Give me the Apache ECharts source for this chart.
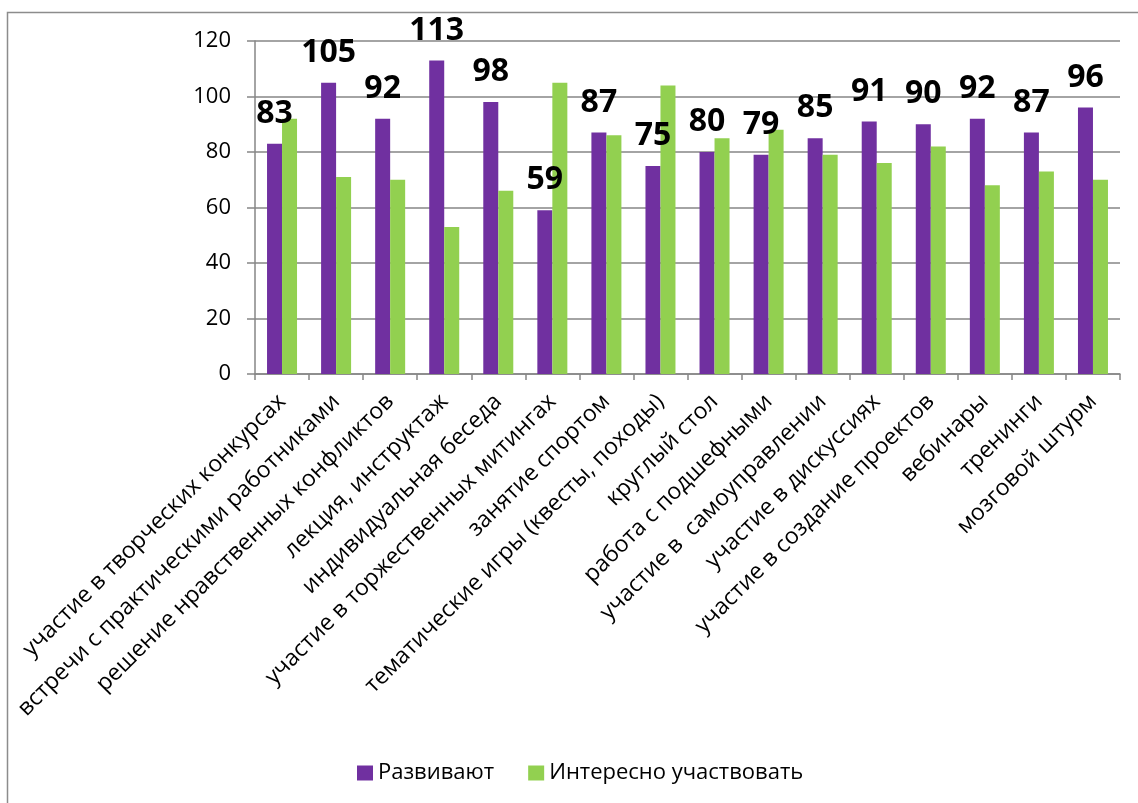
<!DOCTYPE html>
<html>
<head>
<meta charset="utf-8">
<script src="https://cdn.jsdelivr.net/npm/echarts@6/dist/echarts.min.js"></script>
<style>
  html, body { margin: 0; padding: 0; background: #fff; }
  #chart { width: 1138px; height: 803px; }
</style>
</head>
<body>
<div id="chart"></div>
<script>
var categories = [
    'участие в творческих конкурсах',
    'встречи с практическими работниками',
    'решение нравственных конфликтов',
    'лекция, инструктаж',
    'индивидуальная беседа',
    'участие в торжественных митингах',
    'занятие спортом',
    'тематические игры (квесты, походы)',
    'круглый стол',
    'работа с подшефными',
    'участие в  самоуправлении',
    'участие в дискуссиях',
    'участие в создание проектов',
    'вебинары',
    'тренинги',
    'мозговой штурм'
];
var razvivayut = [83, 105, 92, 113, 98, 59, 87, 75, 80, 79, 85, 91, 90, 92, 87, 96];
var interesno = [92, 71, 70, 53, 66, 105, 86, 104, 85, 88, 79, 76, 82, 68, 73, 70];
var yTicks = { min: 0, max: 120, interval: 20 };

var font = '"Open Sans", "Noto Sans", sans-serif';
var chart = echarts.init(document.getElementById('chart'));

var option = {
    animation: false,
    textStyle: { fontFamily: font },
    graphic: [
        {
            type: 'rect',
            shape: { x: 7.5, y: 12.5, width: 1300, height: 1000 },
            style: { fill: 'none', stroke: '#8c8c8c', lineWidth: 1.5 },
            silent: true
        }
    ],
    grid: {
        left: 255,
        right: 18,
        top: 41,
        bottom: 429
    },
    legend: {
        left: 352,
        top: 757,
        itemWidth: 16,
        itemHeight: 15,
        itemGap: 34,
        icon: 'rect',
        textStyle: { fontSize: 22, color: '#000', fontFamily: font },
        data: ['Развивают', 'Интересно участвовать']
    },
    xAxis: {
        type: 'category',
        data: categories,
        axisLine: { show: true, lineStyle: { color: '#868686', width: 1.5 } },
        axisTick: { show: true, length: 6, lineStyle: { color: '#868686', width: 1.5 } },
        axisLabel: {
            rotate: 45,
            interval: 0,
            margin: 24,
            fontSize: 23,
            color: '#000',
            fontFamily: font
        }
    },
    yAxis: {
        type: 'value',
        min: yTicks.min,
        max: yTicks.max,
        interval: yTicks.interval,
        axisLine: { show: true, lineStyle: { color: '#868686', width: 1.5 } },
        axisTick: { show: true, length: 8, lineStyle: { color: '#868686', width: 1.5 } },
        splitLine: { show: true, lineStyle: { color: '#868686', width: 1.5 } },
        axisLabel: {
            margin: 24,
            fontSize: 22,
            color: '#000',
            fontFamily: font
        }
    },
    series: [
        {
            name: 'Развивают',
            type: 'bar',
            barWidth: 15,
            barGap: '0%',
            itemStyle: { color: '#7030A0' },
            label: {
                show: true,
                position: 'top',
                distance: 14,
                fontSize: 32,
                fontWeight: 'bold',
                color: '#000',
                fontFamily: font
            },
            data: razvivayut
        },
        {
            name: 'Интересно участвовать',
            type: 'bar',
            barWidth: 15,
            barGap: '0%',
            itemStyle: { color: '#92D050' },
            data: interesno
        }
    ]
};

chart.setOption(option);
</script>
</body>
</html>
